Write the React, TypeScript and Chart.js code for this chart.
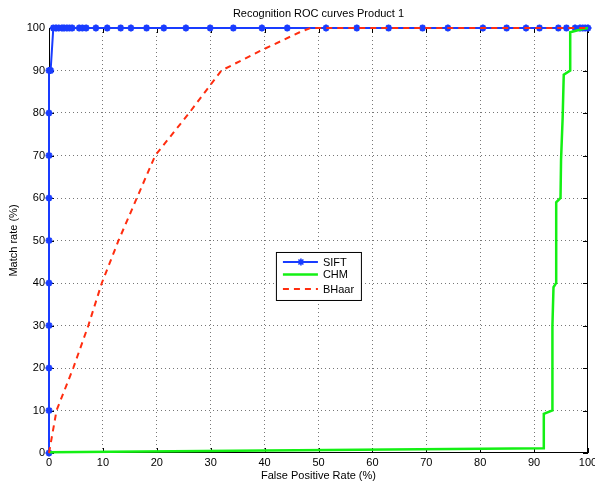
import React, { useEffect, useRef } from "react";
import { Chart, registerables } from "chart.js";

Chart.register(...registerables);

const TITLE = "Recognition ROC curves Product 1";
const X_TITLE = "False Positive Rate (%)";
const Y_TITLE = "Match rate (%)";
const TICKS = [0, 10, 20, 30, 40, 50, 60, 70, 80, 90, 100];

const SIFT_X = [0, 0, 0, 0, 0, 0, 0, 0, 0, 0, 0.3, 0.8, 1.3, 1.8, 2.4, 2.8, 3.3, 3.8, 4.3, 5.6, 6.2, 6.9, 8.7, 10.8, 13.3, 15.2, 18.1, 21.3, 25.4, 29.9, 34.2, 39.5, 44.2, 51.4, 57.1, 63.0, 69.3, 74.0, 80.5, 84.9, 88.5, 91.0, 94.5, 96.0, 97.6, 98.5, 99.0, 99.5, 100];
const SIFT_Y = [0, 10, 20, 30, 40, 50, 60, 70, 80, 90, 90, 100, 100, 100, 100, 100, 100, 100, 100, 100, 100, 100, 100, 100, 100, 100, 100, 100, 100, 100, 100, 100, 100, 100, 100, 100, 100, 100, 100, 100, 100, 100, 100, 100, 100, 100, 100, 100, 100];

const CHM_X = [0, 91.8, 91.8, 93.4, 93.4, 93.6, 94.1, 94.1, 94.9, 95.0, 95.3, 95.5, 96.7, 96.7, 98.8, 100];
const CHM_Y = [0.2, 1.1, 9.2, 10, 30, 39, 40, 59, 60, 69, 79, 89, 90, 99, 99.7, 100];

const BHAAR_X = [0, 1.4, 4.5, 7.3, 9.8, 12.9, 16.3, 19.7, 26, 32, 39, 46.5, 48.5, 100];
const BHAAR_Y = [0, 10, 20, 30, 40, 50, 60, 70, 80, 90, 94.5, 99, 100, 100];

const SERIES_NAMES = ["SIFT", "CHM", "BHaar"];
const COLORS = ["rgb(25,60,255)", "rgb(20,240,20)", "rgb(255,45,15)"];

const FONT = "'Liberation Sans', Arial, Helvetica, sans-serif";

const pts = (xs: number[], ys: number[]) => xs.map((x, i) => ({ x, y: ys[i] }));

const boxPlugin = {
  id: "matlabBox",
  beforeDatasetsDraw(chart: any) {
    const { ctx, chartArea: a, scales } = chart;
    ctx.save();
    ctx.strokeStyle = "#000";
    ctx.lineWidth = 1;
    ctx.strokeRect(a.left + 0.5, a.top + 0.5, a.right - a.left - 1, a.bottom - a.top - 1);
    const L = 5;
    ctx.beginPath();
    TICKS.forEach((t) => {
      const px = Math.round(scales.x.getPixelForValue(t)) + 0.5;
      ctx.moveTo(px, a.bottom);
      ctx.lineTo(px, a.bottom - L);
      ctx.moveTo(px, a.top);
      ctx.lineTo(px, a.top + L);
      const py = Math.round(scales.y.getPixelForValue(t)) + 0.5;
      ctx.moveTo(a.left, py);
      ctx.lineTo(a.left + L, py);
      ctx.moveTo(a.right, py);
      ctx.lineTo(a.right - L, py);
    });
    ctx.stroke();
    ctx.fillStyle = "#000";
    ctx.font = `11px ${FONT}`;
    ctx.textAlign = "center";
    ctx.textBaseline = "middle";
    ctx.fillText(TITLE, (a.left + a.right) / 2, 14);
    ctx.restore();
  },
};

const legendPlugin = {
  id: "matlabLegend",
  afterDatasetsDraw(chart: any) {
    const { ctx, chartArea: a } = chart;
    const w = a.right - a.left;
    const h = a.bottom - a.top;
    const bx = a.left + w * 0.421;
    const by = a.top + h * 0.527;
    const bw = 85;
    const bh = 48;
    ctx.save();
    ctx.fillStyle = "#fff";
    ctx.fillRect(bx, by, bw, bh);
    ctx.strokeStyle = "#000";
    ctx.lineWidth = 1;
    ctx.strokeRect(bx + 0.5, by + 0.5, bw, bh);
    const rows = [by + 10, by + 22.5, by + 37];
    ctx.font = `11px ${FONT}`;
    ctx.textBaseline = "middle";
    ctx.textAlign = "left";
    rows.forEach((ry, i) => {
      ctx.strokeStyle = COLORS[i];
      ctx.lineWidth = i === 1 ? 2.5 : 2;
      ctx.setLineDash(i === 2 ? [6, 5] : []);
      ctx.beginPath();
      ctx.moveTo(bx + 7, ry);
      ctx.lineTo(bx + 42, ry);
      ctx.stroke();
      ctx.setLineDash([]);
      if (i === 0) {
        const cx = bx + 25;
        ctx.lineWidth = 1.6;
        ctx.beginPath();
        for (let k = 0; k < 4; k++) {
          const ang = (k * Math.PI) / 4;
          ctx.moveTo(cx - 3.5 * Math.cos(ang), ry - 3.5 * Math.sin(ang));
          ctx.lineTo(cx + 3.5 * Math.cos(ang), ry + 3.5 * Math.sin(ang));
        }
        ctx.stroke();
      }
      ctx.fillStyle = "#000";
      ctx.fillText(SERIES_NAMES[i], bx + 47, ry + 0.5);
    });
    ctx.restore();
  },
};

export default function App() {
  const ref = useRef<HTMLCanvasElement | null>(null);
  useEffect(() => {
    if (!ref.current) return;
    const chart = new Chart(ref.current, {
      type: "line",
      data: {
        datasets: [
          {
            label: SERIES_NAMES[0],
            data: pts(SIFT_X, SIFT_Y),
            borderColor: COLORS[0],
            backgroundColor: COLORS[0],
            borderWidth: 2,
            pointStyle: "star",
            pointRadius: 3.5,
            pointBorderWidth: 2,
            pointBorderColor: COLORS[0],
            tension: 0,
            clip: 6,
            order: 3,
          },
          {
            label: SERIES_NAMES[1],
            data: pts(CHM_X, CHM_Y),
            borderColor: COLORS[1],
            borderWidth: 2.5,
            pointRadius: 0,
            tension: 0,
            clip: 6,
            order: 2,
          },
          {
            label: SERIES_NAMES[2],
            data: pts(BHAAR_X, BHAAR_Y),
            borderColor: COLORS[2],
            borderWidth: 2,
            borderDash: [6, 5],
            pointRadius: 0,
            tension: 0,
            clip: 6,
            order: 1,
          },
        ],
      },
      options: {
        responsive: false,
        animation: false,
        layout: { padding: { top: 28, right: 7, left: 0, bottom: 0 } },
        plugins: { legend: { display: false }, tooltip: { enabled: false }, title: { display: false } },
        scales: {
          x: {
            type: "linear",
            min: 0,
            max: 100,
            afterFit: (s: any) => {
              s.height = 30;
              s.paddingLeft = 0;
              s.paddingRight = 0;
            },
            ticks: {
              stepSize: 10,
              padding: 3,
              color: "#000",
              font: { family: FONT, size: 11 },
              maxRotation: 0,
            },
            grid: {
              color: (c: any) => (c.tick && (c.tick.value === 0 || c.tick.value === 100) ? "rgba(0,0,0,0)" : "#777"),
              drawTicks: false,
            },
            border: { display: false, dash: [1, 3] },
            title: {
              display: true,
              text: X_TITLE,
              color: "#000",
              font: { family: FONT, size: 11 },
              padding: { top: 0, bottom: 0 },
            },
          },
          y: {
            type: "linear",
            min: 0,
            max: 100,
            afterFit: (s: any) => {
              s.width = 49;
              s.paddingTop = 0;
              s.paddingBottom = 0;
            },
            ticks: {
              stepSize: 10,
              padding: 4,
              color: "#000",
              font: { family: FONT, size: 11 },
            },
            grid: {
              color: (c: any) => (c.tick && (c.tick.value === 0 || c.tick.value === 100) ? "rgba(0,0,0,0)" : "#777"),
              drawTicks: false,
            },
            border: { display: false, dash: [1, 3] },
            title: {
              display: true,
              text: Y_TITLE,
              color: "#000",
              font: { family: FONT, size: 11 },
              padding: { top: 7, bottom: 0 },
            },
          },
        },
      },
      plugins: [boxPlugin, legendPlugin],
    });
    return () => chart.destroy();
  }, []);
  return (
    <div style={{ position: "absolute", left: 0, top: 0, width: 595, height: 483, background: "#fff" }}>
      <canvas ref={ref} width={595} height={483} />
    </div>
  );
}
